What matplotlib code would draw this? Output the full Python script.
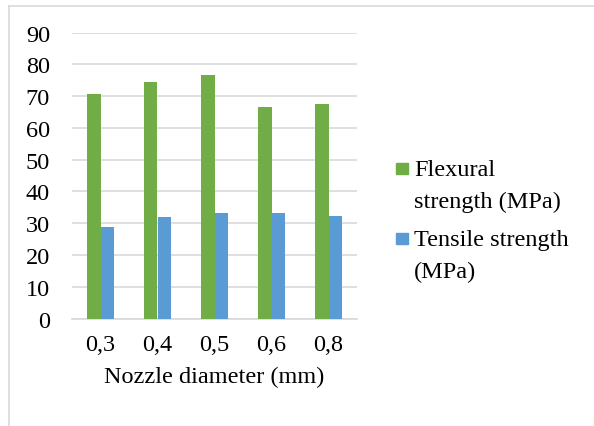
import matplotlib.pyplot as plt
import numpy as np
from matplotlib.patches import Rectangle
from matplotlib.lines import Line2D

diameters = ["0,3", "0,4", "0,5", "0,6", "0,8"]
flexural = [70.6, 74.5, 76.6, 66.4, 67.4]
tensile = [28.7, 32.0, 33.1, 33.2, 32.2]
series_labels = [["Flexural", "strength (MPa)"], ["Tensile strength", "(MPa)"]]

GREEN = "#70AD47"
BLUE = "#5B9BD5"
GRID = "#d9d9d9"
FS = 17.5


def main():
    plt.rcParams.update({"font.family": "Liberation Serif", "font.size": FS})

    W, H = 594, 427
    fig = plt.figure(figsize=(W / 100, H / 100), dpi=100)
    ax = fig.add_axes([72 / W, 1 - 319.5 / H, (357 - 72) / W, (319.5 - 33.5) / H])

    x = np.arange(len(diameters))
    w = 0.237
    ax.bar(x - w / 2, flexural, w, color=GREEN, zorder=3)
    ax.bar(x + w / 2, tensile, w, color=BLUE, zorder=3)

    ax.set_xlim(-0.5, len(diameters) - 0.5)
    ax.set_ylim(0, 90)
    ax.set_yticks(range(0, 91, 10))
    ax.set_xticks(x)
    ax.set_xticklabels(diameters)
    ax.yaxis.grid(True, color=GRID, linewidth=1.2, zorder=0)
    ax.set_axisbelow(True)
    for side in ("top", "right", "left"):
        ax.spines[side].set_visible(False)
    ax.spines["bottom"].set_color(GRID)
    ax.spines["bottom"].set_linewidth(1.2)
    ax.tick_params(axis="both", length=0, labelsize=FS, colors="black")
    ax.tick_params(axis="y", pad=15.8)
    ax.tick_params(axis="x", pad=11.4)
    ax.set_xlabel("Nozzle diameter (mm)", fontsize=FS, labelpad=7.6)

    # legend drawn by hand so the swatch sits beside the first line of text
    for (lines, color, top) in zip(series_labels, [GREEN, BLUE], [164, 234]):
        fig.add_artist(Rectangle((396 / W, 1 - (top + 11) / H), 12 / W, 11 / H,
                                 color=color, transform=fig.transFigure))
        for k, line in enumerate(lines):
            fig.text(414 / W, 1 - (top + 12 + 32 * k) / H, line, fontsize=FS,
                     va="baseline", ha="left")

    # light border on left and top, as in the source
    fig.add_artist(Line2D([8.5 / W, 8.5 / W], [0, 1 - 6.5 / H], color=GRID, linewidth=1.2,
                          transform=fig.transFigure))
    fig.add_artist(Line2D([8.5 / W, 1], [1 - 6.5 / H, 1 - 6.5 / H], color=GRID, linewidth=1.2,
                          transform=fig.transFigure))

    fig.savefig("out.png", dpi=100)


if __name__ == "__main__":
    main()
